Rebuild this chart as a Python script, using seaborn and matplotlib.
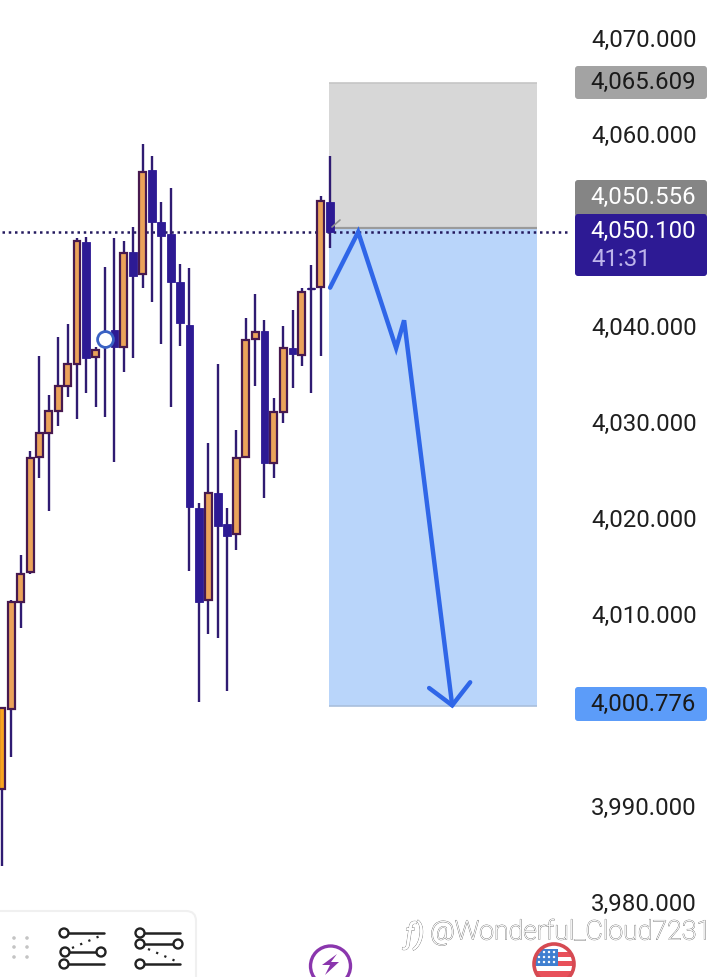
import matplotlib
matplotlib.use("Agg")
import matplotlib.pyplot as plt
import matplotlib.patheffects as pe
from matplotlib.patches import Circle, FancyBboxPatch, Rectangle
from matplotlib.transforms import ScaledTranslation
import pandas as pd
import seaborn as sns

# candles
opens = [3992.1, 4000.4, 4011.6, 4014.7, 4026.7, 4029.2, 4031.5, 4034.1, 4036.4, 4049.1, 4037.1, 4039.4,
         4039.9, 4038.1, 4048.0, 4045.7, 4056.6, 4051.1, 4049.9, 4044.9, 4040.4, 4021.4, 4011.8, 4022.9,
         4019.7, 4018.6, 4026.7, 4039.0, 4039.8, 4026.0, 4031.4, 4038.0, 4037.3, 4044.3, 4044.4, 4053.2]
closes = [4000.5, 4011.6, 4014.5, 4026.6, 4029.2, 4031.5, 4034.1, 4036.4, 4049.2, 4037.0, 4037.8, 4038.3,
          4038.1, 4047.9, 4045.5, 4056.4, 4051.1, 4049.7, 4044.9, 4040.6, 4021.5, 4011.6, 4022.9, 4019.5,
          4018.4, 4026.6, 4038.8, 4039.7, 4026.0, 4031.4, 4038.0, 4037.4, 4043.9, 4044.2, 4053.3, 4050.1]
highs = [4000.6, 4011.8, 4016.5, 4027.3, 4037.2, 4033.1, 4039.2, 4040.5, 4049.5, 4049.6, 4038.1, 4046.5,
         4049.5, 4049.2, 4050.6, 4059.3, 4058.0, 4053.2, 4054.7, 4046.8, 4046.4, 4021.9, 4028.1, 4036.4,
         4021.4, 4029.5, 4041.1, 4043.6, 4040.9, 4032.8, 4040.3, 4042.0, 4044.3, 4046.7, 4053.8, 4058.0]
lows = [3984.1, 3995.4, 4008.9, 4014.5, 4024.5, 4021.0, 4029.9, 4032.9, 4030.6, 4033.3, 4031.9, 4030.8,
        4026.1, 4035.5, 4037.0, 4044.3, 4042.8, 4038.4, 4031.9, 4038.2, 4014.8, 4001.1, 4008.2, 4007.8,
        4002.3, 4017.0, 4026.6, 4034.1, 4022.4, 4024.5, 4030.2, 4033.9, 4036.1, 4033.3, 4037.2, 4048.4]

# 4,050 and 4,000 sit behind the price tags in the app, so no label for them
price_ticks = [4070, 4060, 4040, 4030, 4020, 4010, 3990, 3980]
stop_level = 4065.609
entry_level = 4050.556
target_level = 4000.776
last_price = 4050.100
countdown = "41:31"

path_x = [35.0, 38.0, 42.05, 42.9, 48.03]
path_y = [4044.3, 4050.1, 4038.0, 4040.9, 4000.8]
head_x = [45.57, 48.03, 49.95]
head_y = [4002.6, 4000.8, 4003.2]

box_left, box_right = 34.9, 57.1

df = pd.DataFrame({"i": range(len(opens)), "open": opens, "close": closes, "high": highs, "low": lows})
df["bottom"] = df[["open", "close"]].min(axis=1)
df["height"] = (df["close"] - df["open"]).abs()
up = df[df["close"] >= df["open"]]
down = df[df["close"] < df["open"]]

sns.set_theme(style="white")
plt.rcParams["font.family"] = ["Roboto", "DejaVu Sans"]

NAVY = "#2d1a94"
fig = plt.figure(figsize=(7.17, 9.78), dpi=100)
ax = fig.add_axes([0, 0, 585 / 717, 1])
ax.set_xlim(-0.2134, 62.2)
ax.set_ylim(3972.50, 4074.37)

# risk / reward boxes
ax.add_patch(Rectangle((box_left, entry_level), box_right - box_left, stop_level - entry_level,
                       fc="#d7d7d7", ec="none", zorder=1))
ax.add_patch(Rectangle((box_left, target_level), box_right - box_left, entry_level - target_level,
                       fc="#b9d5fa", ec="none", zorder=1))
ax.hlines(stop_level, box_left, box_right, color="#c6c6c6", lw=1.2, zorder=2)
ax.hlines(entry_level, box_left, box_right, color="#9a9a9a", lw=1.6, zorder=2)
ax.hlines(target_level, box_left, box_right, color="#a9bfdc", lw=1.2, zorder=2)

# last price line
ax.hlines(last_price, 0, 60.6, color="#241a5e", lw=1.8, linestyles=(0, (1, 1.5)), zorder=3)

# candles
ax.vlines(df["i"], df["low"], df["high"], color="#2f1b72", lw=1.7, zorder=4)
ax.bar(down["i"], down["height"], bottom=down["bottom"], width=0.84, color=NAVY, ec=NAVY, lw=0.6, zorder=5)
ax.bar(up["i"], up["height"], bottom=up["bottom"], width=0.74, color="#eba35a", ec="#47194f", lw=1.6, zorder=5)
ax.patches[-len(up)].set_facecolor("#f9a51f")
ax.hlines(closes[33], 32.6, 33.4, color="#2f1b72", lw=1.7, zorder=5)

# marker on the doji
sns.scatterplot(x=[11], y=[4039.0], s=130, color="white", edgecolor="#3a62c4", linewidth=2, ax=ax, zorder=6)

# hand drawn move
sns.lineplot(x=path_x, y=path_y, sort=False, color="#2f66e8", lw=3.2, ax=ax, zorder=7, errorbar=None,
             solid_joinstyle="miter")
sns.lineplot(x=head_x, y=head_y, sort=False, color="#2f66e8", lw=3.2, ax=ax, zorder=7, errorbar=None,
             solid_joinstyle="miter")

ax.set_xticks([])
ax.yaxis.tick_right()
ax.set_yticks(price_ticks)
ax.set_yticklabels([f"{p:,.3f}" for p in price_ticks], fontsize=17.3, color="#1f1f1f")
ax.tick_params(axis="y", length=0, pad=4.4)
shift = ScaledTranslation(0, 3.6 / 100, fig.dpi_scale_trans)
for lab in ax.get_yticklabels():
    lab.set_transform(lab.get_transform() + shift)
sns.despine(ax=ax, left=True, right=True, top=True, bottom=True)

# everything of the app around the chart, in screen pixels
ui = fig.add_axes([0, 0, 1, 1], facecolor="none")
ui.set_xlim(0, 717)
ui.set_ylim(978, 0)
ui.axis("off")


def tag(y0, y1, color):
    ui.add_patch(FancyBboxPatch((577, y0 + 2), 128, y1 - y0 - 4, boxstyle="round,pad=2,rounding_size=3",
                                fc=color, ec="none"))


tag(67, 100, "#a3a3a3")
tag(181, 218, "#858585")
tag(215, 277, NAVY)
tag(688, 722, "#5c9cf9")
tag_font = dict(fontsize=17.3, ha="right", va="center")
ui.text(696, 82, f"{stop_level:,.3f}", color="#1a1a1a", **tag_font)
ui.text(696, 197, f"{entry_level:,.3f}", color="white", **tag_font)
ui.text(696, 231, f"{last_price:,.3f}", color="white", **tag_font)
ui.text(591, 259, countdown, color="#bdb4ea", fontsize=17.3, ha="left", va="center")
ui.text(696, 704, f"{target_level:,.3f}", color="#1a1a1a", **tag_font)

# small cursor tick at the box corner
ui.plot([332, 340], [228, 221], color="#8f8f8f", lw=1.2)

# tool panel
ui.add_patch(FancyBboxPatch((-20, 912), 216, 90, boxstyle="round,pad=0,rounding_size=10",
                            fc="white", ec="#f0f0f0", lw=1.5))
for gx in [14, 27]:
    for gy in [939, 948, 958]:
        ui.add_patch(Circle((gx, gy), 1.8, fc="#c4c4c4", ec="none"))


def icon(rows, dots):
    ui.plot(*dots, color="#222222", lw=1.6, ls=(0, (1, 3)))
    for x0, x1, y, two in rows:
        ui.plot([x0, x1], [y, y], color="#222222", lw=1.8)
        ui.add_patch(Circle((x0, y), 4.5, fc="white", ec="#222222", lw=1.7, zorder=5))
        if two:
            ui.add_patch(Circle((x1, y), 4.5, fc="white", ec="#222222", lw=1.7, zorder=5))


icon([(64, 104, 934, False), (65, 101, 953, True), (64, 104, 965, False)], ([72, 100], [949, 937]))
icon([(140, 180, 934, False), (140, 178, 945, True), (140, 180, 965, False)], ([148, 178], [950, 963]))

# lightning button
ui.add_patch(Circle((330.5, 967), 20, fc="white", ec="#8a36ad", lw=2.4))
ui.fill([337, 322, 330, 325, 339, 331], [955, 966, 966, 976, 963, 963], color="#8a36ad", ec="none")

# flag button
ring = Circle((554, 965), 19, fc="white", ec="none", transform=ui.transData)
ui.add_patch(ring)
for y0, h in [(953, 4.5), (962, 5), (972, 10)]:
    bar = Rectangle((534, y0), 44, h, fc="#e8505a", ec="none")
    ui.add_patch(bar)
    bar.set_clip_path(ring)
canton = Rectangle((534, 950), 24, 17, fc="#3f7fd0", ec="none")
ui.add_patch(canton)
canton.set_clip_path(ring)
for sy in [953, 958, 963]:
    for sx in [539, 544, 549, 554]:
        ui.add_patch(Circle((sx, sy), 1.2, fc="white", ec="none"))
ui.add_patch(Circle((554, 965), 20, fc="none", ec="#d64a52", lw=2.6))
ui.add_patch(Rectangle((578, 940), 30, 38, fc="white", ec="none", zorder=6))

# watermark
mark = [pe.withStroke(linewidth=0.7, foreground="#6e6e6e"), pe.Normal()]
ui.text(430, 933, "@Wonderful_Cloud7231", color="white", fontsize=19.3, weight="light", ha="left",
        va="center", zorder=8, path_effects=mark)
ui.text(405, 936, "ƒ)", color="white", fontsize=21, ha="left", va="center", style="italic",
        zorder=8, path_effects=mark)

fig.savefig("out.png", dpi=100)
